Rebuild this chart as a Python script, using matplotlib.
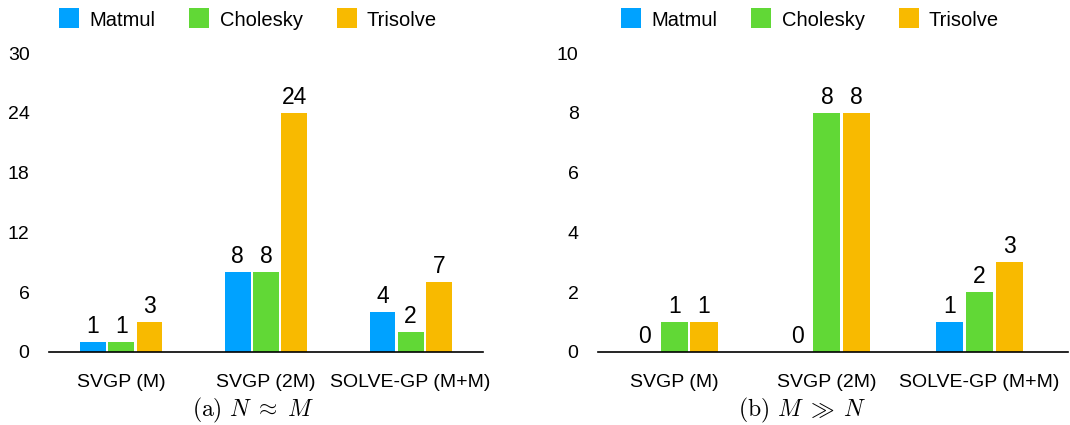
import matplotlib
matplotlib.use("Agg")
import matplotlib.pyplot as plt
from matplotlib.lines import Line2D
import numpy as np

plt.rcParams['font.family'] = 'sans-serif'
plt.rcParams['font.sans-serif'] = ['Liberation Sans', 'Arial', 'DejaVu Sans']
plt.rcParams['mathtext.fontset'] = 'cm'

# data
categories = ['SVGP (M)', 'SVGP (2M)', 'SOLVE-GP (M+M)']
series = ['Matmul', 'Cholesky', 'Trisolve']
left_values = {'Matmul': [1, 8, 4], 'Cholesky': [1, 8, 2], 'Trisolve': [3, 24, 7]}
right_values = {'Matmul': [0, 0, 1], 'Cholesky': [1, 8, 2], 'Trisolve': [1, 8, 3]}
left_ticks = [0, 6, 12, 18, 24, 30]
right_ticks = [0, 2, 4, 6, 8, 10]
captions = [r'(a) $N\;\approx\;M$', r'(b) $M\;\gg\;N$']

colors = {'Matmul': '#00A2FF', 'Cholesky': '#61D836', 'Trisolve': '#F8BA00'}

fig = plt.figure(figsize=(10.7, 4.25), dpi=100)
ax1 = fig.add_axes([49/1070, 1-352/425, 434/1070, 299/425])
ax2 = fig.add_axes([598/1070, 1-352/425, 470/1070, 299/425])

step = 0.195
width = 0.178


def draw(ax, values, ticks, xmax):
    x = np.arange(len(categories))
    for i, s in enumerate(series):
        pos = x + (i - 1) * step
        bars = ax.bar(pos, values[s], width, color=colors[s], zorder=2)
        for b, v in zip(bars, values[s]):
            ax.annotate(str(v), (b.get_x() + b.get_width() / 2, v),
                        xytext=(0, 3), textcoords='offset points',
                        ha='center', va='bottom', fontsize=16.5)
    ax.set_ylim(ticks[0], ticks[-1])
    ax.set_yticks(ticks)
    ax.set_xlim(-0.5, xmax)
    ax.set_xticks(x)
    ax.set_xticklabels(categories)
    ax.tick_params(axis='y', length=0, labelsize=14, pad=14)
    ax.tick_params(axis='x', length=0, labelsize=14, pad=16)
    for side in ['top', 'right', 'left']:
        ax.spines[side].set_visible(False)
    ax.spines['bottom'].set_linewidth(1.2)
    ax.spines['bottom'].set_zorder(3)


draw(ax1, left_values, left_ticks, 2.5)
draw(ax2, right_values, right_ticks, 2.58)

handles = [Line2D([], [], marker='s', linestyle='none', markersize=14,
                  markerfacecolor=colors[s], markeredgewidth=0) for s in series]
for cx in [248, 810]:
    fig.legend(handles, series, loc='center', bbox_to_anchor=(cx/1070, 1-20/425),
               ncol=3, frameon=False, fontsize=14.5, handletextpad=0.5,
               columnspacing=1.7, handlelength=1.0)

for cx, cap in zip([253, 802], captions):
    fig.text(cx/1070, 1-410/425, cap, ha='center', va='center', fontsize=17,
             family=['cmr10', 'DejaVu Serif'], math_fontfamily='cm')

fig.savefig('out.png', dpi=100)
